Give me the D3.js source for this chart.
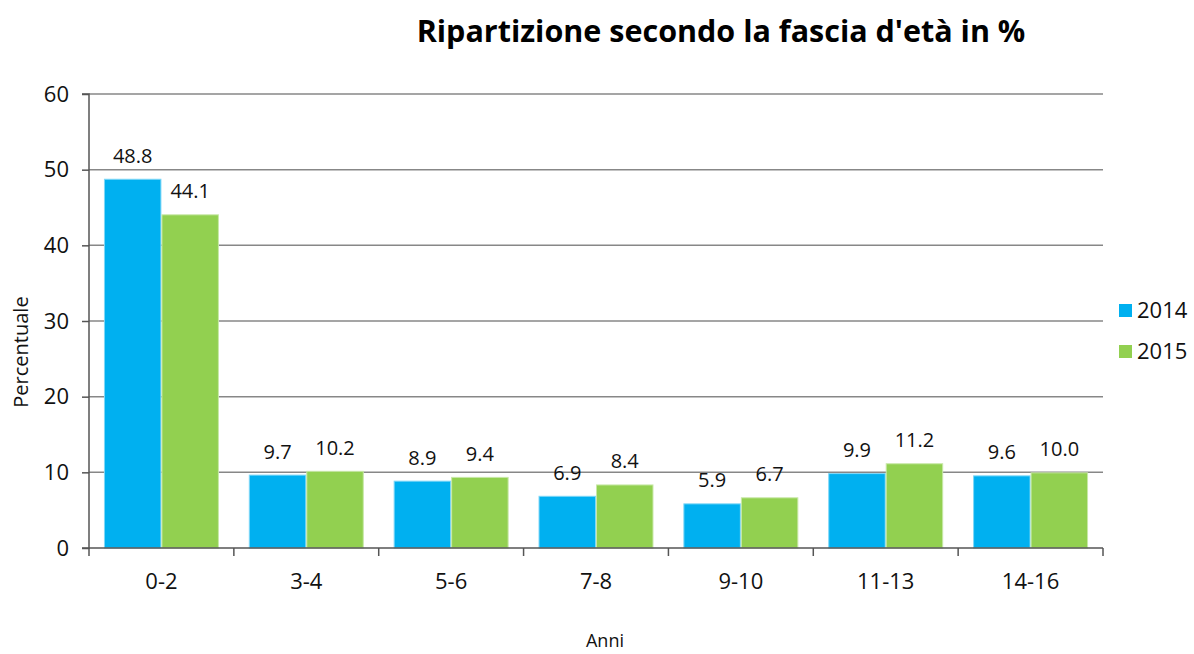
<!DOCTYPE html>
<html><head><meta charset="utf-8">
<script src="https://cdn.jsdelivr.net/npm/d3@7"></script>
<style>body{margin:0;background:#fff}svg{display:block;font-family:"Open Sans","Noto Sans",sans-serif}</style>
</head><body><svg id="c" width="1194" height="654"></svg>
<script>
const categories = ["0-2","3-4","5-6","7-8","9-10","11-13","14-16"];
const seriesNames = ["2014","2015"];
const values2014 = [48.8,9.7,8.9,6.9,5.9,9.9,9.6];
const values2015 = [44.1,10.2,9.4,8.4,6.7,11.2,10.0];
const yTicks = [0,10,20,30,40,50,60];
const colors = ["#00B0F0","#92D050"];
const strokeColors = ["#7fd7f7","#c8e8a7"];

const svg = d3.select("#c");
const L=89, R=1103, T=94, B=548;
const x0 = d3.scaleBand().domain(categories).range([L,R]).paddingInner(0).paddingOuter(0);
const x1 = d3.scaleBand().domain(seriesNames).range([0,x0.bandwidth()]).paddingInner(0).paddingOuter(0.26);
const y = d3.scaleLinear().domain([0,60]).range([B,T]);

// gridlines
svg.append("g").selectAll("line").data(yTicks.filter(d=>d>0)).join("line")
  .attr("x1",L).attr("x2",R).attr("y1",d=>y(d)).attr("y2",d=>y(d))
  .attr("stroke","#878787").attr("stroke-width",1.5);

const data = categories.map((c,i)=>({cat:c, vals:[values2014[i],values2015[i]]}));
const g = svg.append("g");
data.forEach(d=>{
  d.vals.forEach((v,j)=>{
    const xx = x0(d.cat)+x1(seriesNames[j]);
    g.append("rect").attr("x",xx+0.5).attr("y",y(v)+0.5).attr("width",x1.bandwidth()-1).attr("height",y(0)-y(v)-0.5)
      .attr("fill",colors[j]).attr("stroke",strokeColors[j]).attr("stroke-width",1);
    g.append("text").attr("x",xx+x1.bandwidth()/2).attr("y",y(v)-16).attr("text-anchor","middle")
      .attr("font-size",20).attr("fill","#111").text(v.toFixed(1));
  });
});

// y axis
const yAxis = d3.axisLeft(y).tickValues(yTicks).tickSize(7).tickPadding(13);
const ya = svg.append("g").attr("transform",`translate(${L},0)`).call(yAxis);
ya.select(".domain").attr("stroke","#555").attr("stroke-width",1.5).attr("d",`M-7,${T}H0V${B}H-7`);
ya.selectAll(".tick line").attr("stroke","#555").attr("stroke-width",1.5);
ya.selectAll("text").attr("font-size",22).attr("fill","#111").attr("font-family",'"Open Sans","Noto Sans",sans-serif');

// x axis
const xa = svg.append("g").attr("transform",`translate(0,${B})`);
xa.append("line").attr("x1",L).attr("x2",R).attr("y1",0).attr("y2",0).attr("stroke","#555").attr("stroke-width",1.5);
const bounds = categories.map(c=>x0(c)).concat([R]);
xa.selectAll("line.t").data(bounds).join("line").attr("class","t")
  .attr("x1",d=>d).attr("x2",d=>d).attr("y1",0).attr("y2",8).attr("stroke","#555").attr("stroke-width",1.5);
xa.selectAll("text").data(categories).join("text")
  .attr("x",d=>x0(d)+x0.bandwidth()/2).attr("y",41).attr("text-anchor","middle")
  .attr("font-size",22).attr("fill","#111").text(d=>d);

// titles
svg.append("text").attr("x",721).attr("y",42).attr("text-anchor","middle").attr("font-size",30.5).attr("font-weight","bold").attr("fill","#000")
  .text("Ripartizione secondo la fascia d'età in %");
svg.append("text").attr("transform","translate(28,352) rotate(-90)").attr("text-anchor","middle").attr("font-size",20).attr("fill","#111").text("Percentuale");
svg.append("text").attr("x",605).attr("y",647).attr("text-anchor","middle").attr("font-size",18).attr("fill","#111").text("Anni");

// legend
const lg = svg.append("g");
seriesNames.forEach((s,i)=>{
  const yy = 310 + i*41;
  lg.append("rect").attr("x",1119).attr("y",yy-6).attr("width",13).attr("height",13).attr("fill",colors[i]);
  lg.append("text").attr("x",1137).attr("y",yy+8).attr("font-size",22).attr("fill","#111").text(s);
});
</script></body></html>
